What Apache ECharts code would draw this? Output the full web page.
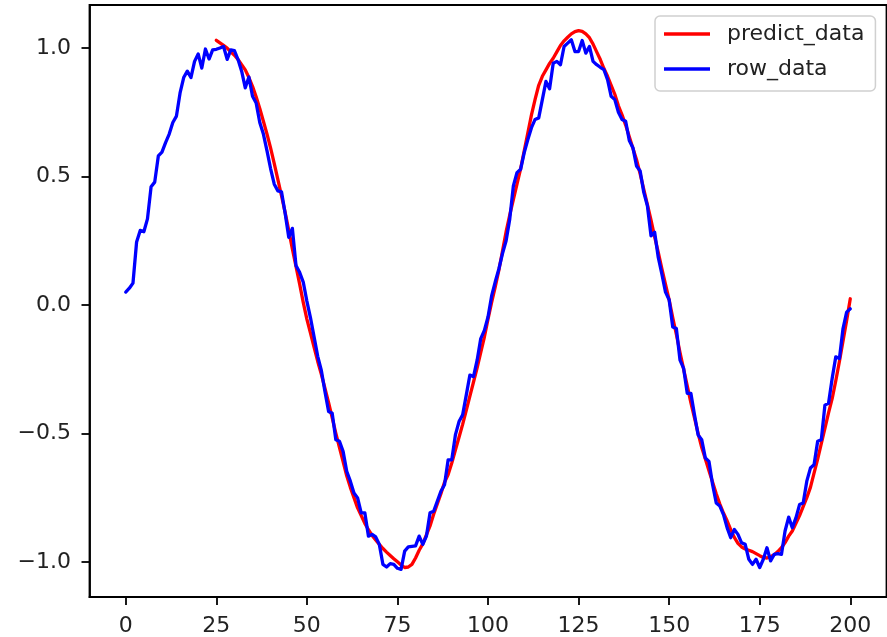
<!DOCTYPE html>
<html lang="en">
<head>
    <meta charset="UTF-8">
    <title>predict_data / row_data</title>
    <script src="https://cdn.jsdelivr.net/npm/echarts@6.0.0/dist/echarts.min.js"></script>
    <style>
        html, body { margin: 0; padding: 0; background: #fff; }
    </style>
</head>
<body>

<div id="main" style="width: 887px;height: 637px"></div>

<script>
    // raw signal, one value per step starting at x = 0
    var rowStart = 0;
    var rowData = [
        0.05, 0.065, 0.085, 0.245, 0.29, 0.285, 0.335, 0.46, 0.478, 0.58,
        0.595, 0.632, 0.665, 0.71, 0.735, 0.825, 0.885, 0.91, 0.885, 0.948,
        0.977, 0.922, 0.996, 0.957, 0.993, 0.995, 1.0, 1.006, 0.956, 0.993,
        0.99, 0.955, 0.91, 0.845, 0.887, 0.812, 0.786, 0.71, 0.665, 0.6,
        0.53, 0.47, 0.444, 0.44, 0.357, 0.263, 0.298, 0.153, 0.127, 0.089,
        0.015, -0.05, -0.125, -0.2, -0.255, -0.338, -0.415, -0.422, -0.525, -0.531,
        -0.57, -0.648, -0.686, -0.732, -0.751, -0.809, -0.809, -0.9, -0.893, -0.903,
        -0.932, -1.01, -1.02, -1.007, -1.01, -1.025, -1.029, -0.958, -0.942, -0.94,
        -0.938, -0.9, -0.932, -0.9, -0.809, -0.803, -0.764, -0.725, -0.7, -0.603,
        -0.603, -0.506, -0.454, -0.428, -0.351, -0.273, -0.279, -0.215, -0.131, -0.099,
        -0.047, 0.035, 0.09, 0.14, 0.2, 0.25, 0.334, 0.463, 0.515, 0.528,
        0.593, 0.644, 0.69, 0.722, 0.728, 0.799, 0.87, 0.841, 0.941, 0.948,
        0.935, 1.006, 1.019, 1.032, 0.986, 0.986, 1.029, 0.98, 1.006, 0.948,
        0.935, 0.925, 0.916, 0.877, 0.812, 0.799, 0.75, 0.722, 0.715, 0.64,
        0.612, 0.541, 0.521, 0.438, 0.386, 0.269, 0.283, 0.185, 0.12, 0.05,
        0.02, -0.086, -0.092, -0.215, -0.247, -0.344, -0.344, -0.428, -0.506, -0.525,
        -0.596, -0.609, -0.7, -0.771, -0.783, -0.816, -0.867, -0.906, -0.874, -0.893,
        -0.926, -0.932, -0.99, -1.01, -0.99, -1.022, -0.99, -0.945, -0.996, -0.971,
        -0.968, -0.971, -0.88, -0.826, -0.867, -0.829, -0.777, -0.771, -0.686, -0.635,
        -0.622, -0.531, -0.525, -0.39, -0.383, -0.286, -0.202, -0.209, -0.092, -0.028,
        -0.015
    ];

    // model output, one value per step starting at x = 25
    var predictStart = 25;
    var predictData = [
        1.03, 1.02, 1.01, 1.0, 0.985, 0.972, 0.955, 0.935, 0.915, 0.885,
        0.851, 0.81, 0.765, 0.715, 0.665, 0.61, 0.55, 0.488, 0.425, 0.36,
        0.29, 0.218, 0.15, 0.082, 0.01, -0.055, -0.11, -0.165, -0.22, -0.27,
        -0.325, -0.38, -0.44, -0.5, -0.555, -0.61, -0.665, -0.71, -0.75, -0.79,
        -0.82, -0.85, -0.875, -0.897, -0.915, -0.932, -0.948, -0.962, -0.975, -0.988,
        -1.0, -1.012, -1.022, -1.02, -1.01, -0.985, -0.955, -0.93, -0.895, -0.86,
        -0.815, -0.775, -0.735, -0.69, -0.66, -0.615, -0.565, -0.515, -0.465, -0.41,
        -0.355, -0.3, -0.245, -0.185, -0.125, -0.055, 0.01, 0.07, 0.135, 0.21,
        0.285, 0.35, 0.41, 0.47, 0.53, 0.6, 0.67, 0.74, 0.8, 0.855,
        0.89, 0.915, 0.94, 0.96, 0.985, 1.01, 1.028, 1.042, 1.055, 1.064,
        1.068, 1.065, 1.055, 1.04, 1.015, 0.985, 0.955, 0.92, 0.89, 0.855,
        0.82, 0.775, 0.74, 0.7, 0.655, 0.61, 0.565, 0.51, 0.45, 0.39,
        0.33, 0.265, 0.205, 0.14, 0.08, 0.02, -0.05, -0.115, -0.185, -0.25,
        -0.315, -0.38, -0.44, -0.5, -0.555, -0.6, -0.645, -0.69, -0.735, -0.775,
        -0.81, -0.84, -0.875, -0.905, -0.928, -0.942, -0.95, -0.955, -0.96, -0.968,
        -0.976, -0.983, -0.985, -0.98, -0.972, -0.96, -0.945, -0.925, -0.9, -0.88,
        -0.85, -0.82, -0.785, -0.75, -0.71, -0.655, -0.6, -0.54, -0.48, -0.42,
        -0.365, -0.295, -0.22, -0.14, -0.06, 0.024
    ];

    var xTicks = [0, 25, 50, 75, 100, 125, 150, 175, 200];
    var yTicks = [-1.0, -0.5, 0.0, 0.5, 1.0];

    var font = 'DejaVu Sans';
    var ink = '#222';

    function toPairs(start, list) {
        return list.map(function (v, i) {
            return [start + i, v];
        });
    }

    var myChart = echarts.init(document.getElementById('main'));

    var option = {
        animation: false,
        backgroundColor: '#fff',
        grid: {
            left: 89.5,
            right: 0.5,
            top: 5,
            bottom: 37,
            show: true,
            borderColor: '#000',
            borderWidth: 1.8,
            backgroundColor: 'transparent'
        },
        legend: {
            data: [
                {name: 'predict_data', icon: 'rect'},
                {name: 'row_data', icon: 'rect'}
            ],
            orient: 'vertical',
            left: 655,
            top: 16,
            itemWidth: 46,
            itemHeight: 3.3,
            itemGap: 11,
            padding: [6, 11, 10, 9],
            selectedMode: false,
            borderColor: '#d0d0d0',
            borderWidth: 1.5,
            borderRadius: 5,
            backgroundColor: 'rgba(255,255,255,0.8)',
            textStyle: {
                fontFamily: font,
                fontSize: 22,
                lineHeight: 24,
                color: ink,
                padding: [0, 0, 0, 12]
            }
        },
        xAxis: {
            type: 'value',
            min: -10,
            max: 210,
            axisLine: {show: true, onZero: false, lineStyle: {color: '#000', width: 1.8}},
            axisTick: {show: true, length: 8, customValues: xTicks, lineStyle: {color: '#000', width: 1.8}},
            axisLabel: {
                customValues: xTicks,
                margin: 18,
                fontFamily: font,
                fontSize: 22,
                color: ink
            },
            splitLine: {show: false}
        },
        yAxis: {
            type: 'value',
            min: -1.1368,
            max: 1.1674,
            axisLine: {show: true, onZero: false, lineStyle: {color: '#000', width: 1.8}},
            axisTick: {show: true, length: 8, customValues: yTicks, lineStyle: {color: '#000', width: 1.8}},
            axisLabel: {
                customValues: yTicks,
                margin: 18.5,
                fontFamily: font,
                fontSize: 22,
                color: ink,
                formatter: function (v) {
                    return v.toFixed(1).replace('-', '\u2212');
                }
            },
            splitLine: {show: false}
        },
        series: [
            {
                name: 'predict_data',
                type: 'line',
                data: toPairs(predictStart, predictData),
                symbol: 'none',
                color: '#ff0000',
                lineStyle: {color: '#ff0000', width: 3.3, join: 'round', cap: 'round'},
                emphasis: {disabled: true},
                z: 2
            },
            {
                name: 'row_data',
                type: 'line',
                data: toPairs(rowStart, rowData),
                symbol: 'none',
                color: '#0000ff',
                lineStyle: {color: '#0000ff', width: 3.3, join: 'round', cap: 'round'},
                emphasis: {disabled: true},
                z: 3
            }
        ]
    };

    myChart.setOption(option);
</script>

</body>
</html>
